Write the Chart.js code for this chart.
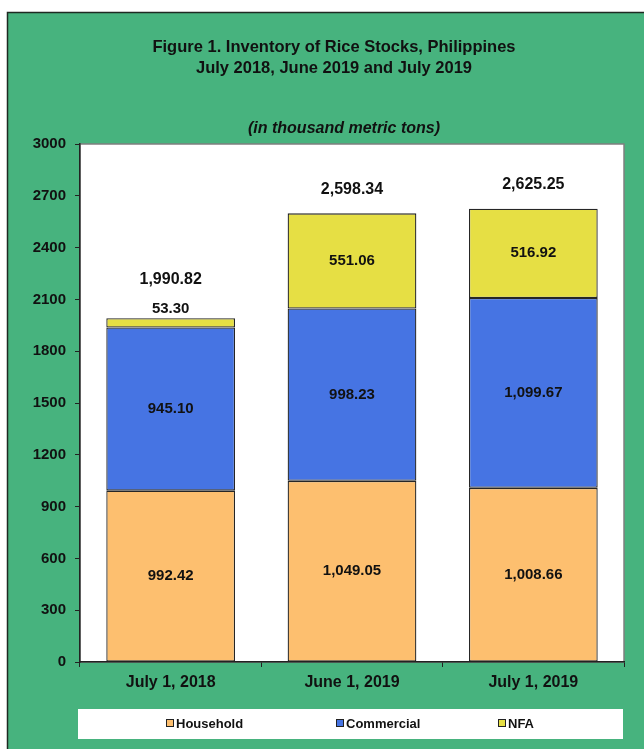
<!DOCTYPE html>
<html>
<head>
<meta charset="utf-8">
<script src="https://cdn.jsdelivr.net/npm/chart.js@4"></script>
<style>
    html, body { margin: 0; padding: 0; background: #fff; }
    #wrap { width: 644px; height: 749px; }
</style>
</head>
<body>
<div id="wrap"><canvas id="riceChart" width="644" height="749"></canvas></div>
<script>
const categories = ['July 1, 2018', 'June 1, 2019', 'July 1, 2019'];
const household = [992.42, 1049.05, 1008.66];
const commercial = [945.10, 998.23, 1099.67];
const nfa = [53.30, 551.06, 516.92];
const seriesNames = ['Household', 'Commercial', 'NFA'];
const yTicks = [0, 300, 600, 900, 1200, 1500, 1800, 2100, 2400, 2700, 3000];

const titleLines = ['Figure 1. Inventory of Rice Stocks, Philippines', 'July 2018, June 2019 and July 2019'];
const subtitle = '(in thousand metric tons)';

const FONT = '"Liberation Sans", Arial, sans-serif';
const GREEN = '#47b37e';
const colors = ['#fdbf6f', '#4674e3', '#e6df44'];

function fmt(v) {
    return v.toLocaleString('en-US', { minimumFractionDigits: 2, maximumFractionDigits: 2 });
}

// background, frame, white plot area
const framePlugin = {
    id: 'framePlugin',
    beforeDraw(chart) {
        const ctx = chart.ctx;
        const a = chart.chartArea;
        ctx.save();
        ctx.fillStyle = '#fff';
        ctx.fillRect(0, 0, chart.width, chart.height);
        ctx.fillStyle = GREEN;
        ctx.fillRect(7, 12, chart.width, chart.height);
        ctx.strokeStyle = '#1e2a22';
        ctx.lineWidth = 1.5;
        ctx.strokeRect(7.5, 12.5, chart.width + 10, chart.height + 10);

        ctx.fillStyle = '#fff';
        ctx.fillRect(a.left, a.top, a.right - a.left, a.bottom - a.top);
        ctx.strokeStyle = '#7f7f7f';
        ctx.lineWidth = 1.5;
        ctx.strokeRect(a.left, a.top, a.right - a.left, a.bottom - a.top);

        // titles
        ctx.fillStyle = '#111';
        ctx.textAlign = 'center';
        ctx.textBaseline = 'middle';
        ctx.font = 'bold 16.5px ' + FONT;
        ctx.fillText(titleLines[0], 334, 47);
        ctx.fillText(titleLines[1], 334, 68);
        ctx.font = 'italic bold 16px ' + FONT;
        ctx.fillText(subtitle, 344, 129);

        // legend box
        ctx.fillStyle = '#fff';
        ctx.fillRect(78, 709, 545, 30);
        const xs = [166, 336, 498];
        ctx.font = 'bold 13px ' + FONT;
        ctx.textAlign = 'left';
        chart.data.datasets.forEach((ds, i) => {
            ctx.fillStyle = ds.backgroundColor;
            ctx.fillRect(xs[i], 719, 8, 8);
            ctx.strokeStyle = '#222';
            ctx.lineWidth = 1;
            ctx.strokeRect(xs[i] + 0.5, 719.5, 7, 7);
            ctx.fillStyle = '#111';
            ctx.fillText(ds.label, xs[i] + 10, 724);
        });
        ctx.restore();
    }
};

// value labels in segments and totals on top
const labelPlugin = {
    id: 'labelPlugin',
    afterDatasetsDraw(chart) {
        const ctx = chart.ctx;
        ctx.save();
        ctx.fillStyle = '#111';
        ctx.textAlign = 'center';
        ctx.textBaseline = 'middle';
        const last = chart.data.datasets.length - 1;
        categories.forEach((c, i) => {
            let topY = null;
            let extra = 0;
            chart.data.datasets.forEach((ds, d) => {
                const bar = chart.getDatasetMeta(d).data[i];
                const h = bar.base - bar.y;
                ctx.font = 'bold 15px ' + FONT;
                if (h < 20) {
                    ctx.fillText(fmt(ds.data[i]), bar.x, bar.y - 9);
                    extra = 15;
                } else {
                    ctx.fillText(fmt(ds.data[i]), bar.x, (bar.y + bar.base) / 2);
                }
                if (d === last) topY = bar.y;
            });
            const total = household[i] + commercial[i] + nfa[i];
            const bar = chart.getDatasetMeta(last).data[i];
            ctx.font = 'bold 16px ' + FONT;
            ctx.fillText(fmt(total), bar.x, topY - 24 - extra);
        });
        ctx.restore();
    }
};

const ctx = document.getElementById('riceChart').getContext('2d');
new Chart(ctx, {
    type: 'bar',
    data: {
        labels: categories,
        datasets: [household, commercial, nfa].map((vals, i) => ({
            label: seriesNames[i],
            data: vals,
            backgroundColor: colors[i],
            borderColor: '#262626',
            borderWidth: 1.3,
            borderSkipped: false,
            barPercentage: 0.71,
            categoryPercentage: 1
        }))
    },
    options: {
        responsive: false,
        animation: false,
        layout: { padding: { top: 144, left: 0, right: 20, bottom: 52 } },
        plugins: {
            legend: { display: false },
            title: { display: false },
            tooltip: { enabled: false }
        },
        scales: {
            x: {
                stacked: true,
                afterFit: scale => { scale.height = 35; },
                grid: { drawOnChartArea: false, drawTicks: true, tickLength: 5, color: '#222', offset: true },
                border: { color: '#222', width: 1.5 },
                ticks: { color: '#111', padding: 6, font: { family: FONT, size: 16, weight: 'bold' } }
            },
            y: {
                stacked: true,
                min: 0,
                max: 3000,
                afterFit: scale => { scale.width = 80; },
                afterBuildTicks: scale => { scale.ticks = yTicks.map(v => ({ value: v })); },
                grid: { drawOnChartArea: false, drawTicks: true, tickLength: 5, color: '#222' },
                border: { color: '#222', width: 1.5 },
                ticks: {
                    color: '#111',
                    padding: 9,
                    font: { family: FONT, size: 15, weight: 'bold' },
                    callback: v => String(v)
                }
            }
        }
    },
    plugins: [framePlugin, labelPlugin]
});
</script>
</body>
</html>
